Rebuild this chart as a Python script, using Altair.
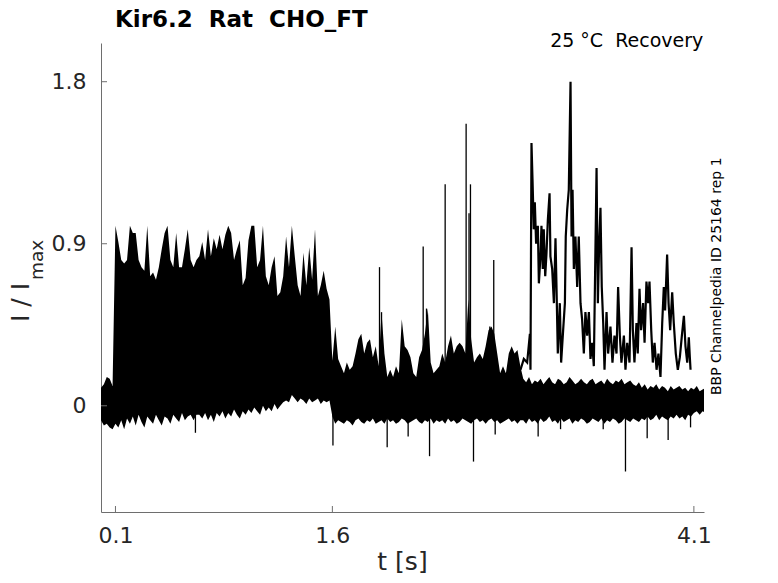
import altair as alt
import pandas as pd

# ---------------- data ----------------
T_STEP = 0.02  # sampling grid of the envelope (s), starting at 0

# envelope of the dense trace(s): upper edge
HI_A = [0.10, 0.12, 0.16, 0.15, 0.11]  # 0.00-0.08
HI_B = [1.00, 0.91, 0.81, 0.79, 0.81, 1.00, 0.96, 0.96, 0.81, 0.77,
        0.75, 1.00, 0.72, 0.74, 0.70, 0.77, 0.87, 0.96, 1.00, 0.81,
        0.77, 0.96, 0.77, 0.77, 0.87, 0.98, 0.81, 0.77, 0.81, 0.83,
        0.91, 0.81, 0.98, 0.83, 0.93, 0.87, 0.95, 0.87, 0.95, 1.00,
        0.96, 0.81, 0.87, 0.92, 0.67, 0.71, 0.92, 1.00, 1.00, 0.77,
        0.81, 1.00, 0.72, 0.67, 0.77, 0.83, 0.61, 0.63, 0.72, 0.94,
        0.77, 1.00, 0.83, 0.67, 0.61, 0.85, 0.67, 0.88, 0.70, 0.98,
        0.61, 0.67, 0.75, 0.65, 0.59, 0.25]  # 0.10-1.60
HI_C = [0.44, 0.26, 0.22, 0.18, 0.24, 0.20, 0.22, 0.29, 0.37, 0.40,
        0.29, 0.35, 0.37, 0.27, 0.33, 0.22, 0.52, 0.29, 0.16, 0.20,
        0.16, 0.22, 0.18, 0.48, 0.33, 0.31, 0.27, 0.18, 0.16, 0.27,
        0.31, 0.40, 0.54, 0.24, 0.18, 0.20, 0.22, 0.29, 0.24, 0.33,
        0.39, 0.29, 0.33, 0.35, 0.33, 0.29, 0.59, 0.37, 0.24, 0.27,
        0.29, 0.26, 0.33, 0.42, 0.44, 0.40, 0.29, 0.18, 0.22, 0.18,
        0.29, 0.33, 0.29, 0.31, 0.22]  # 1.62-2.90
HI_D = [0.15, 0.13, 0.16, 0.12, 0.14, 0.13, 0.15, 0.12, 0.14, 0.16,
        0.13, 0.12, 0.15, 0.14, 0.12, 0.13, 0.16, 0.14, 0.12, 0.13,
        0.15, 0.13, 0.12, 0.14, 0.15, 0.12, 0.13, 0.14, 0.12, 0.15,
        0.13, 0.12, 0.14, 0.13, 0.15, 0.12, 0.13, 0.14, 0.12, 0.11,
        0.13, 0.10, 0.12, 0.09, 0.11, 0.10, 0.12, 0.09, 0.11, 0.10,
        0.08, 0.11, 0.09, 0.10, 0.11, 0.09, 0.10, 0.08, 0.10, 0.09,
        0.11, 0.08, 0.09, 0.10]  # 2.92-4.18

# lower edge
LO_A = [-0.08, -0.11, -0.10, -0.12, -0.13]
LO_B = [-0.10, -0.12, -0.08, -0.13, -0.07, -0.10, -0.06, -0.11, -0.05, -0.09,
        -0.12, -0.06, -0.08, -0.10, -0.05, -0.08, -0.11, -0.06, -0.07, -0.10,
        -0.05, -0.07, -0.09, -0.04, -0.08, -0.06, -0.05, -0.08, -0.05, -0.05,
        -0.07, -0.04, -0.08, -0.05, -0.09, -0.04, -0.06, -0.03, -0.07, -0.04,
        -0.06, -0.02, -0.05, -0.07, -0.03, -0.05, -0.02, -0.04, -0.01, -0.03,
        -0.05, 0.00, -0.03, -0.01, -0.03, 0.01, -0.02, 0.00, 0.02, 0.03,
        0.02, 0.06, 0.04, 0.02, 0.04, 0.03, 0.01, 0.04, 0.02, 0.03,
        0.04, 0.01, 0.03, 0.02, 0.03, -0.06]
LO_C = [-0.10, -0.08, -0.09, -0.10, -0.08, -0.09, -0.11, -0.08, -0.07, -0.09,
        -0.10, -0.08, -0.09, -0.07, -0.10, -0.09, -0.08, -0.10, -0.07, -0.09,
        -0.08, -0.10, -0.09, -0.07, -0.08, -0.10, -0.09, -0.08, -0.07, -0.09,
        -0.10, -0.08, -0.09, -0.07, -0.10, -0.08, -0.09, -0.08, -0.10, -0.07,
        -0.09, -0.08, -0.10, -0.09, -0.07, -0.08, -0.09, -0.10, -0.08, -0.07,
        -0.09, -0.08, -0.10, -0.08, -0.07, -0.09, -0.08, -0.10, -0.09, -0.08,
        -0.07, -0.09, -0.08, -0.10, -0.08]
LO_D = [-0.08, -0.10, -0.07, -0.09, -0.08, -0.10, -0.07, -0.09, -0.08, -0.06,
        -0.09, -0.08, -0.10, -0.07, -0.09, -0.08, -0.07, -0.10, -0.08, -0.09,
        -0.07, -0.08, -0.10, -0.09, -0.07, -0.08, -0.09, -0.07, -0.10, -0.08,
        -0.09, -0.07, -0.08, -0.10, -0.09, -0.07, -0.08, -0.09, -0.07, -0.08,
        -0.09, -0.07, -0.08, -0.06, -0.08, -0.07, -0.05, -0.08, -0.06, -0.07,
        -0.08, -0.06, -0.07, -0.05, -0.07, -0.06, -0.08, -0.05, -0.06, -0.04,
        -0.03, -0.05, -0.03, -0.04]

# second (late-activating) sweep
S2_T = [2.901, 2.924, 2.947, 2.966, 2.970, 2.977, 2.984, 2.993, 3.000, 3.009,
        3.021, 3.028, 3.039, 3.046, 3.055, 3.062, 3.072, 3.081, 3.090, 3.102,
        3.108, 3.120, 3.132, 3.143, 3.150, 3.159, 3.173, 3.182, 3.196, 3.208,
        3.214, 3.224, 3.235, 3.247, 3.254, 3.261, 3.270, 3.281, 3.293, 3.304,
        3.316, 3.327, 3.339, 3.350, 3.362, 3.374, 3.385, 3.397, 3.408, 3.427,
        3.436, 3.445, 3.454, 3.463, 3.473, 3.482, 3.496, 3.507, 3.523, 3.537,
        3.551, 3.565, 3.576, 3.588, 3.599, 3.616, 3.627, 3.639, 3.655, 3.669,
        3.678, 3.689, 3.703, 3.712, 3.724, 3.735, 3.749, 3.759, 3.772, 3.784,
        3.793, 3.805, 3.816, 3.828, 3.842, 3.855, 3.869, 3.881, 3.892, 3.901,
        3.915, 3.925, 3.936, 3.950, 3.961, 3.975, 3.989, 4.003, 4.017, 4.031,
        4.042, 4.054, 4.065, 4.072, 4.077]
S2_V = [0.20, 0.26, 0.24, 0.40, 0.20, 1.46, 1.26, 0.98, 1.13, 0.90,
        1.00, 0.68, 0.83, 1.00, 0.76, 0.98, 0.72, 0.85, 1.03, 1.18,
        0.83, 0.76, 0.57, 0.93, 0.66, 0.29, 0.57, 0.24, 0.42, 0.57,
        0.94, 1.09, 1.20, 1.80, 0.94, 1.20, 0.76, 0.94, 0.66, 0.94,
        0.57, 0.48, 0.29, 0.52, 0.39, 0.52, 0.26, 0.35, 0.22, 1.32,
        0.57, 0.90, 1.10, 0.66, 0.46, 0.20, 0.52, 0.29, 0.44, 0.24,
        0.39, 0.29, 0.66, 0.39, 0.24, 0.39, 0.20, 0.35, 0.24, 0.88,
        0.42, 0.24, 0.46, 0.29, 0.65, 0.42, 0.57, 0.35, 0.69, 0.57,
        0.69, 0.42, 0.24, 0.35, 0.20, 0.29, 0.16, 0.46, 0.66, 0.53,
        0.84, 0.57, 0.42, 0.63, 0.46, 0.29, 0.20, 0.27, 0.39, 0.50,
        0.33, 0.24, 0.38, 0.27, 0.20]

# isolated openings (up) and glitches (down)
UP_T = [1.926, 1.940, 2.228, 2.251, 2.380, 2.525, 2.545, 2.555, 2.689, 2.716]
UP_V = [0.77, 0.52, 0.885, 0.54, 1.23, 1.567, 1.07, 1.23, 0.44, 0.81]
DOWN_T = [0.653, 1.604, 1.979, 2.124, 2.272, 2.576, 2.726, 3.023, 3.178, 3.473,
          3.627, 3.777, 3.922, 4.077]
DOWN_V = [-0.15, -0.22, -0.23, -0.17, -0.28, -0.31, -0.16, -0.17, -0.13, -0.13,
          -0.365, -0.18, -0.19, -0.12]

X_TICKS = [0.1, 1.6, 4.1]
Y_TICKS = [0, 0.9, 1.8]

NB = "\u00a0"  # keeps the doubled spaces of the original labels
TITLE = "Kir6.2" + NB + " Rat" + NB + " CHO_FT"
COND = "25 °C" + NB + " Recovery"
SIDE = "BBP Channelpedia ID 25164 rep 1"
YLAB_MAIN = "I / I"
YLAB_SUB = "max"
XLAB = "t [s]"

# ---------------- build ----------------
HI = HI_A + HI_B + HI_C + HI_D
LO = LO_A + LO_B + LO_C + LO_D
band_df = pd.DataFrame({"t": [round(i * T_STEP, 2) for i in range(len(HI))],
                        "lo": LO, "hi": HI})
s2_df = pd.DataFrame({"t": S2_T, "v": S2_V, "i": list(range(len(S2_T)))})
spk_df = pd.DataFrame({"t": UP_T + DOWN_T,
                       "base": [0.15] * len(UP_T) + [0.0] * len(DOWN_T),
                       "tip": UP_V + DOWN_V})

W, H = 603, 469
FONT = "DejaVu Sans"
AXC = "#6e6e6e"
LBLC = "#262626"

xs = alt.Scale(domain=[0, 4.17], nice=False, zero=False)
ys = alt.Scale(domain=[-0.59, 2.015], nice=False, zero=False)
xaxis = alt.Axis(values=X_TICKS, format=".1f", title=None, grid=False, ticks=True,
                 tickSize=0, domainColor=AXC, domainWidth=1, labelFont=FONT,
                 labelFontSize=22, labelColor=LBLC, labelPadding=13,
                 labelFlush=False, labelOverlap=False)
yaxis = alt.Axis(values=Y_TICKS, format=".1~f", title=None, grid=False, ticks=True,
                 tickSize=0, domainColor=AXC, domainWidth=1, labelFont=FONT,
                 labelFontSize=22, labelColor=LBLC, labelPadding=15,
                 labelOverlap=False)


def X(f):
    return alt.X(f, type="quantitative", scale=xs, axis=xaxis)


def Y(f):
    return alt.Y(f, type="quantitative", scale=ys, axis=yaxis)


band = alt.Chart(band_df).mark_area(color="#000000", opacity=1, clip=True).encode(
    x=X("t"), y=Y("lo"), y2="hi:Q")
sweep2 = alt.Chart(s2_df).mark_line(color="#000000", strokeWidth=2.2, clip=True,
                                    strokeJoin="miter").encode(
    x=X("t"), y=Y("v"), order="i:Q")
spikes = alt.Chart(spk_df).mark_rule(color="#000000", strokeWidth=1.3, clip=True).encode(
    x=X("t"), y=Y("base"), y2="tip:Q")

xt = alt.Chart(pd.DataFrame({"t": X_TICKS})).mark_rule(color=AXC, strokeWidth=1).encode(
    x=X("t"), y=alt.value(H), y2=alt.value(H - 6))
yt = alt.Chart(pd.DataFrame({"v": Y_TICKS})).mark_rule(color=AXC, strokeWidth=1).encode(
    y=Y("v"), x=alt.value(0), x2=alt.value(6))


def label(text, x, y, size, **kw):
    return alt.Chart(pd.DataFrame({"s": [text]})).mark_text(
        font=FONT, fontSize=size, **kw).encode(
        x=alt.value(x), y=alt.value(y), text="s:N")


t_title = label(TITLE, 14, -16.4, 23, fontWeight="bold", align="left",
                baseline="alphabetic", color="#000000")
t_cond = label(COND, 602.3, 4, 19, align="right", baseline="alphabetic",
               color="#000000")
t_side = label(SIDE, 616, 352, 14, angle=270, align="left", baseline="middle",
               color="#000000")
t_ymain = label(YLAB_MAIN, -72, 279, 25, angle=270, align="left",
                baseline="alphabetic", color=LBLC)
t_ysub = label(YLAB_SUB, -58.5, 237, 18.5, angle=270, align="left",
               baseline="alphabetic", color=LBLC)
t_x = label(XLAB, 301.5, 526.5, 25, align="center", baseline="alphabetic",
            color=LBLC)

chart = alt.layer(band, sweep2, spikes, xt, yt, t_title, t_cond, t_side,
                  t_ymain, t_ysub, t_x).properties(
    width=W, height=H,
    padding={"left": 93, "top": 35, "right": 66, "bottom": 62},
    autosize=alt.AutoSizeParams(type="none"),
).configure_view(stroke=None)

chart.save("out.html", embed_options={"renderer": "svg", "actions": False})
